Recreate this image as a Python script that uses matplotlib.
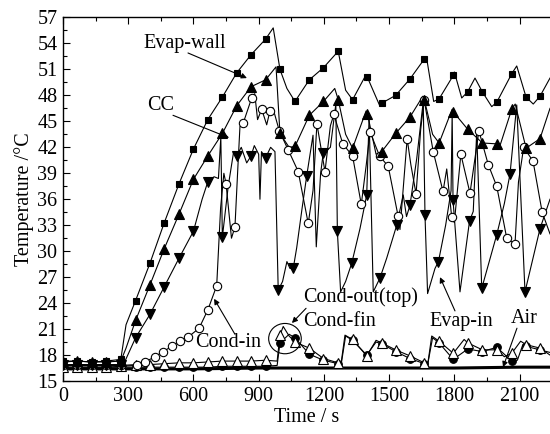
import matplotlib
matplotlib.use("Agg")
import matplotlib.pyplot as plt
from matplotlib.patches import Ellipse
from matplotlib.ticker import MultipleLocator
import numpy as np

plt.rcParams["font.family"] = ["Liberation Serif", "DejaVu Serif"]

# Evap-wall (filled squares): marker points, then extra line points
wall_mt = [0, 66, 132, 198, 266, 334, 400, 466, 534, 600, 666, 733, 799, 865, 932, 998, 1067,
           1133, 1198, 1266, 1332, 1400, 1466, 1530, 1596, 1662, 1730, 1795, 1861, 1929, 1995,
           2064, 2130, 2194]
wall_mv = [17.3, 17.3, 17.2, 17.3, 17.5, 24.3, 28.6, 33.3, 37.8, 41.8, 45.2, 47.8, 50.6, 52.7,
           54.5, 51.0, 47.3, 49.8, 51.2, 53.1, 47.5, 50.1, 47.1, 48.0, 49.9, 52.2, 47.6, 50.3,
           48.4, 48.4, 47.2, 50.5, 47.8, 47.9]
wall_lt = [290, 967, 1030, 1300, 1392, 1457, 1672, 1705, 1800, 1834, 1895, 1972, 2087, 2163, 2240]
wall_lv = [21.5, 55.8, 48.8, 48.6, 50.3, 46.8, 52.4, 47.3, 50.7, 47.7, 50.0, 46.7, 51.4, 47.0, 50.0]

# CC (filled up triangles)
cc_mt = wall_mt
cc_mv = [17.2, 17.3, 17.2, 17.2, 17.3, 22.0, 26.1, 30.3, 34.3, 38.3, 41.0, 43.6, 46.8, 49.0,
         49.8, 43.6, 42.1, 45.7, 47.3, 47.5, 41.9, 45.9, 41.5, 43.6, 45.5, 47.5, 42.5, 46.1,
         44.1, 42.5, 42.4, 46.4, 41.9, 43.0]
cc_lt = [290, 980, 1040, 1250, 1300, 1394, 1440, 1655, 1700, 1790, 2010, 2080, 2240]
cc_lv = [18.8, 51.3, 42.0, 48.8, 43.5, 46.2, 41.2, 47.9, 43.5, 46.4, 42.2, 47.0, 46.5]

# Evap-in (filled down triangles)
ein_mt = [0, 66, 132, 198, 266, 334, 400, 466, 534, 600, 666, 733, 799, 865, 932, 990, 1059,
          1121, 1197, 1262, 1328, 1397, 1458, 1535, 1596, 1665, 1727, 1794, 1870, 1926, 1995,
          2056, 2125, 2194]
ein_mv = [16.9, 16.9, 16.9, 16.9, 16.9, 20.0, 22.7, 25.9, 29.2, 32.3, 38.0, 31.6, 41.0, 41.0,
          40.8, 25.5, 28.0, 38.7, 41.3, 32.3, 28.6, 36.5, 26.9, 33.0, 35.3, 34.2, 28.8, 35.9,
          33.5, 25.7, 31.9, 38.9, 25.3, 32.6]
ein_lt = [280, 640, 695, 715, 726, 760, 785, 820, 845, 880, 900, 906, 913, 955, 975, 1010, 1030,
          1044, 1075, 1100, 1150, 1165, 1185, 1230, 1255, 1277, 1300, 1366, 1408, 1427, 1489,
          1565, 1580, 1627, 1657, 1677, 1711, 1760, 1785, 1790, 1826, 1887, 1903, 2030, 2087,
          2160, 2240]
ein_lv = [17.0, 36.0, 38.6, 38.4, 43.2, 37.5, 41.5, 42.0, 40.2, 42.2, 41.2, 36.0, 41.5, 42.0,
          41.5, 26.5, 28.8, 28.0, 30.4, 35.0, 43.4, 30.5, 39.0, 42.0, 47.0, 25.3, 26.5, 32.6,
          45.5, 25.3, 29.2, 36.5, 34.0, 40.7, 47.3, 25.1, 28.0, 33.0, 37.0, 46.0, 25.3, 34.6,
          43.8, 35.5, 46.9, 29.0, 36.0]

# Cond-in (open circles)
cin_mt = [0, 66, 132, 198, 266, 339, 377, 423, 461, 500, 538, 577, 626, 666, 707, 750, 791,
          829, 868, 914, 952, 995, 1036, 1082, 1128, 1168, 1205, 1246, 1287, 1332, 1372, 1412,
          1456, 1496, 1541, 1583, 1624, 1661, 1703, 1748, 1788, 1830, 1872, 1913, 1956, 1995,
          2041, 2079, 2119, 2162, 2204]
cin_mv = [16.8, 16.8, 16.8, 16.8, 16.8, 16.9, 17.2, 17.8, 18.4, 19.0, 19.6, 20.1, 21.1, 23.2,
          26.0, 37.8, 32.8, 44.8, 47.7, 46.4, 46.2, 43.9, 41.7, 39.2, 33.2, 44.7, 39.2, 45.8,
          42.4, 41.0, 35.4, 43.8, 41.0, 39.8, 34.1, 43.0, 36.6, 47.5, 41.5, 36.9, 33.9, 41.2,
          36.7, 43.9, 40.0, 37.5, 31.5, 30.8, 42.0, 40.4, 34.5]
cin_lt = [725, 740, 775, 805, 814, 882, 895, 937, 965, 1150, 1230, 1395, 1550, 1600, 1645,
          1765, 1800, 2095, 2240]
cin_lv = [35.0, 39.0, 31.5, 40.0, 44.4, 48.2, 45.2, 44.6, 46.6, 37.0, 44.5, 40.0, 32.5, 40.0,
          44.0, 39.5, 33.3, 38.0, 32.0]

# Cond-out(top) (open up triangles)
cout_mt = [0, 66, 132, 198, 266, 334, 400, 466, 534, 600, 666, 733, 799, 865, 932, 998, 1067,
           1133, 1198, 1266, 1332, 1397, 1466, 1530, 1596, 1662, 1730, 1795, 1862, 1929, 1995,
           2064, 2130, 2194]
cout_mv = [16.6, 16.6, 16.6, 16.6, 16.7, 16.8, 16.9, 17.0, 17.1, 17.1, 17.2, 17.3, 17.3, 17.3,
           17.4, 20.3, 19.5, 18.8, 17.6, 17.1, 19.8, 17.9, 19.4, 18.6, 17.9, 17.1, 19.6, 18.2,
           19.4, 18.6, 18.6, 18.2, 19.2, 18.8]
cout_lt = [985, 1013, 1040, 1280, 1297, 1440, 1678, 1696, 1845, 2030, 2105, 2240]
cout_lv = [17.3, 21.3, 20.2, 17.2, 20.3, 19.7, 17.0, 20.2, 19.8, 17.8, 19.6, 18.0]

# Cond-fin (filled circles)
cfin_mt = cout_mt
cfin_mv = [16.6, 16.6, 16.6, 16.6, 16.6, 16.6, 16.6, 16.6, 16.6, 16.6, 16.6, 16.7, 16.7, 16.7,
           16.7, 19.4, 20.0, 18.1, 17.4, 17.0, 19.7, 18.0, 19.3, 18.4, 17.6, 17.0, 19.4, 17.5,
           18.7, 18.4, 18.9, 17.3, 19.0, 18.6]
cfin_lt = [985, 1040, 1280, 1300, 1440, 1678, 1700, 2090, 2115, 2240]
cfin_lv = [16.8, 20.4, 17.0, 20.2, 19.5, 17.0, 20.0, 17.4, 19.2, 18.3]

# Air (thick line)
air_t = [0, 300, 600, 900, 1200, 1500, 1800, 2100, 2240]
air_v = [16.4, 16.4, 16.4, 16.5, 16.5, 16.5, 16.5, 16.6, 16.6]


def draw(ax, mt, mv, lt, lv, marker, ms, mfc):
    t = np.concatenate([mt, lt])
    v = np.concatenate([mv, lv])
    order = np.argsort(t, kind="stable")
    ax.plot(t[order], v[order], color="k", lw=0.8, zorder=2)
    ax.plot(mt, mv, ls="none", marker=marker, ms=ms, mfc=mfc, mec="k", mew=0.8, zorder=3)


fig = plt.figure(figsize=(5.5, 4.34), dpi=100)
ax = fig.add_axes([0.1145, 0.1221, 0.8855, 0.8376])

ax.plot(air_t, air_v, color="k", lw=2.2, zorder=2)
draw(ax, cfin_mt, cfin_mv, cfin_lt, cfin_lv, "o", 5.5, "k")
draw(ax, cout_mt, cout_mv, cout_lt, cout_lv, "^", 6.5, "white")
draw(ax, cin_mt, cin_mv, cin_lt, cin_lv, "o", 6, "white")
draw(ax, ein_mt, ein_mv, ein_lt, ein_lv, "v", 6.5, "k")
draw(ax, cc_mt, cc_mv, cc_lt, cc_lv, "^", 6.5, "k")
draw(ax, wall_mt, wall_mv, wall_lt, wall_lv, "s", 5, "k")

ax.add_patch(Ellipse((1021, 19.9), 150, 3.5, fill=False, ec="k", lw=0.8, zorder=4))

fs = 14.5
arrow = dict(arrowstyle="-|>", color="k", lw=0.8, mutation_scale=8, shrinkA=0, shrinkB=0)
ax.text(561, 54.05, "Evap-wall", fontsize=fs, ha="center", va="center")
ax.annotate("", xy=(846, 50.0), xytext=(575, 52.9), arrowprops=arrow)
ax.text(451, 46.8, "CC", fontsize=fs, ha="center", va="center")
ax.annotate("", xy=(764, 43.1), xytext=(506, 45.7), arrowprops=arrow)
ax.text(759, 19.4, "Cond-in", fontsize=fs, ha="center", va="center")
ax.annotate("", xy=(695, 24.5), xytext=(791, 20.4), arrowprops=arrow)
ax.text(1105, 24.7, "Cond-out(top)", fontsize=fs, ha="left", va="center")
ax.text(1105, 21.9, "Cond-fin", fontsize=fs, ha="left", va="center")
ax.annotate("", xy=(1053, 21.7), xytext=(1118, 23.4), arrowprops=arrow)
ax.text(1831, 21.9, "Evap-in", fontsize=fs, ha="center", va="center")
ax.annotate("", xy=(1734, 27.0), xytext=(1803, 23.1), arrowprops=arrow)
ax.text(2121, 22.2, "Air", fontsize=fs, ha="center", va="center")
ax.annotate("", xy=(2024, 16.6), xytext=(2088, 21.1), arrowprops=arrow)

ax.set_xlim(0, 2240)
ax.set_ylim(15, 57)
ax.xaxis.set_major_locator(MultipleLocator(300))
ax.xaxis.set_minor_locator(MultipleLocator(150))
ax.yaxis.set_major_locator(MultipleLocator(3))
ax.yaxis.set_minor_locator(MultipleLocator(1.5))
ax.tick_params(which="both", direction="in", top=True, right=False, labelsize=fs, pad=4)
ax.tick_params(which="major", length=5, width=0.8)
ax.tick_params(which="minor", length=3, width=0.8)
ax.spines["right"].set_visible(False)
for s in ["left", "bottom", "top"]:
    ax.spines[s].set_linewidth(1.0)

ax.set_xlabel("Time / s", fontsize=fs, labelpad=2)
ax.set_ylabel("Temperature /°C", fontsize=fs, labelpad=2)

fig.savefig("out.png", dpi=100)
